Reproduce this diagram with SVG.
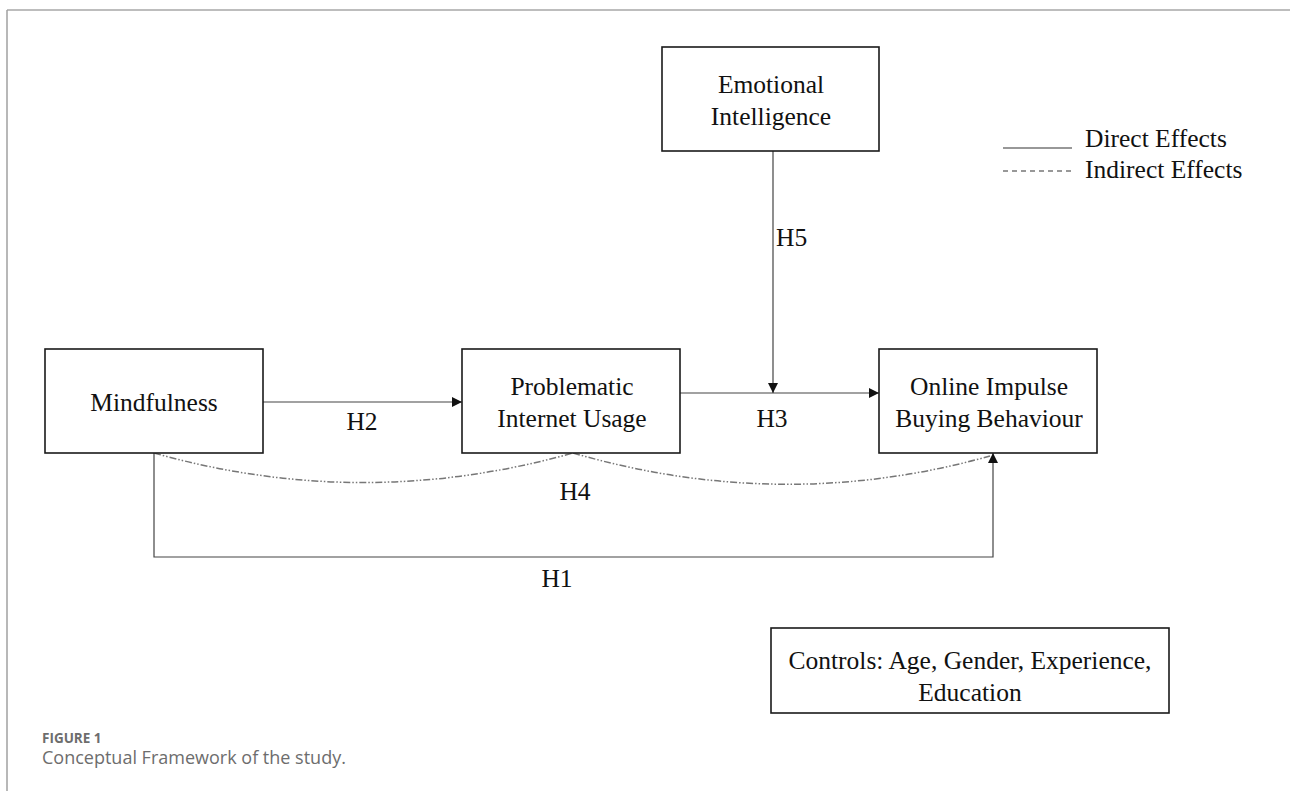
<svg xmlns="http://www.w3.org/2000/svg" width="1290" height="791" viewBox="0 0 1290 791">
<style>
.box{fill:#fff;stroke:#1a1a1a;stroke-width:1.6}
.t{font-family:"Liberation Serif","Times New Roman",serif;font-size:25.5px;fill:#111}
.tm{text-anchor:middle}
.c{fill:none;stroke:#444;stroke-width:1.2}
.d{fill:none;stroke:#777;stroke-width:1.5;stroke-dasharray:7 2 1.5 2 1.5 2}
.cap{font-family:"Open Sans","Liberation Sans",sans-serif;fill:#6d6d6d}
</style>
<defs>
<marker id="ah" viewBox="0 0 10 10" refX="10" refY="5" markerWidth="10" markerHeight="10" markerUnits="userSpaceOnUse" orient="auto">
<path d="M0,0 L10,5 L0,10 z" fill="#111"/>
</marker>
</defs>
<rect width="1290" height="791" fill="#fff"/>
<g id="frame">
<line x1="7" y1="10" x2="1290" y2="10" stroke="#bdbdbd" stroke-width="2"/>
<line x1="7" y1="10" x2="7" y2="791" stroke="#a0a0a0" stroke-width="1.5"/>
</g>
<g id="connectors">
<line class="c" x1="263" y1="402" x2="462" y2="402" marker-end="url(#ah)"/>
<line class="c" x1="680" y1="393" x2="879" y2="393" marker-end="url(#ah)"/>
<line class="c" x1="773" y1="151" x2="773" y2="393" marker-end="url(#ah)"/>
<path class="c" d="M154,453 L154,557 L993,557 L993,453" marker-end="url(#ah)"/>
<path class="d" d="M154,453 Q363,512 573,453"/>
<path class="d" d="M573,453 Q783,514 990,456"/>
<text class="t tm" x="362" y="430">H2</text>
<text class="t tm" x="772" y="427">H3</text>
<text class="t" x="776" y="246">H5</text>
<text class="t tm" x="575" y="500">H4</text>
<text class="t tm" x="557" y="587">H1</text>
</g>
<g id="mindfulness">
<rect class="box" x="45" y="349" width="218" height="104"/>
<text class="t tm" x="154" y="411">Mindfulness</text>
</g>
<g id="piu">
<rect class="box" x="462" y="349" width="218" height="104"/>
<text class="t tm" x="572" y="395">Problematic</text>
<text class="t tm" x="572" y="427">Internet Usage</text>
</g>
<g id="oibb">
<rect class="box" x="879" y="349" width="218" height="104"/>
<text class="t tm" x="989" y="395">Online Impulse</text>
<text class="t tm" x="989" y="427">Buying Behaviour</text>
</g>
<g id="ei">
<rect class="box" x="662" y="47" width="217" height="104"/>
<text class="t tm" x="771" y="93">Emotional</text>
<text class="t tm" x="771" y="125">Intelligence</text>
</g>
<g id="legend">
<line x1="1003" y1="148" x2="1072" y2="148" stroke="#333" stroke-width="1.2"/>
<line x1="1003" y1="171" x2="1071" y2="171" stroke="#333" stroke-width="1.2" stroke-dasharray="5 4"/>
<text class="t" x="1085" y="147">Direct Effects</text>
<text class="t" x="1085" y="178">Indirect Effects</text>
</g>
<g id="controls">
<rect class="box" x="771" y="628" width="398" height="85"/>
<text class="t tm" x="970" y="669">Controls: Age, Gender, Experience,</text>
<text class="t tm" x="970" y="701">Education</text>
</g>
<g id="caption">
<text class="cap" x="42" y="743" font-size="13.5" font-weight="700">FIGURE 1</text>
<text class="cap" x="42" y="764" font-size="18">Conceptual Framework of the study.</text>
</g>
</svg>
